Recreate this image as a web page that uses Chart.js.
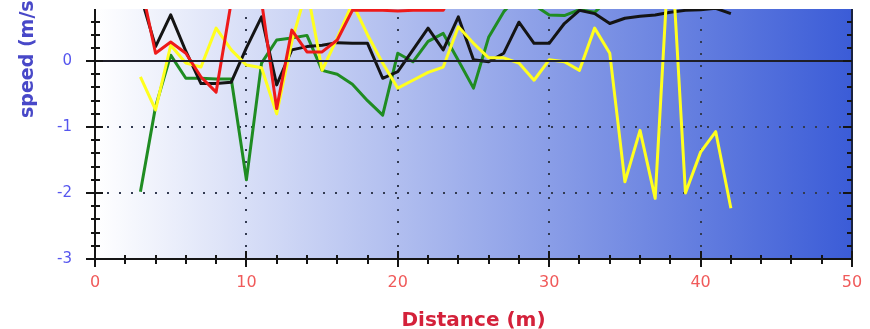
<!DOCTYPE html>
<html><head><meta charset="utf-8">
<script src="https://cdn.jsdelivr.net/npm/chart.js@4/dist/chart.umd.min.js"></script>
<style>html,body{margin:0;padding:0;background:#fff;overflow:hidden}canvas{display:block}</style>
</head><body>
<canvas id="c" width="870" height="329"></canvas>
<script>
// ---- data ----
const distance = [3,4,5,6,7,8,9,10,11,12,13,14,15,16,17,18,19,20,21,22,23,24,25,26,27,28,29,30,31,32,33,34,35,36,37,38,39,40,41,42];
const redSpeed = [1.2,0.12,0.29,0.12,-0.24,-0.47,0.9,1.2,0.91,-0.72,0.47,0.14,0.14,0.32,0.77,0.77,0.77,0.76,0.77,0.77,0.77,1.2,
  null,null,null,null,null,null,null,null,null,null,null,null,null,null,null,null,null,null];
const blackSpeed = [1.0,0.22,0.7,0.15,-0.34,-0.34,-0.32,0.2,0.67,-0.36,0.17,0.22,0.24,0.28,0.27,0.27,-0.26,-0.16,0.17,0.5,
  0.17,0.67,0.02,-0.01,0.12,0.59,0.27,0.27,0.57,0.77,0.72,0.57,0.65,0.68,0.7,0.74,0.77,0.78,0.8,0.72];
const greenSpeed = [-1.98,-0.69,0.09,-0.26,-0.26,-0.27,-0.27,-1.8,-0.03,0.32,0.35,0.39,-0.14,-0.2,-0.35,-0.6,-0.82,0.12,-0.01,0.3,
  0.42,0.01,-0.41,0.36,0.75,1.0,0.85,0.7,0.69,0.78,0.74,0.95,null,null,null,null,null,null,null,null];
const yellowSpeed = [-0.24,-0.74,0.24,-0.03,-0.09,0.5,0.17,-0.06,-0.1,-0.8,0.3,1.1,-0.14,0.35,0.88,0.4,-0.03,-0.41,-0.29,-0.17,
  -0.09,0.52,0.27,0.05,0.05,-0.03,-0.29,0.02,-0.01,-0.14,0.5,0.12,-1.83,-1.05,-2.08,2.0,-2.0,-1.38,-1.07,-2.23];
const xTickValues = [0,10,20,30,40,50];
const yTickValues = [-3,-2,-1,0];
const xTitle = 'Distance (m)';
const yTitle = 'speed (m/s)';

function points(vals){
  return distance.map((d,i)=>({x:d,y:vals[i]})).filter(p=>p.y!==null);
}

const deco = {
  id:'deco',
  beforeDatasetsDraw(chart){
    const {ctx, chartArea:a, scales:{x,y}} = chart;
    ctx.save();
    const g = ctx.createLinearGradient(a.left,0,a.right,0);
    g.addColorStop(0,'#ffffff');
    g.addColorStop(1,'#3b5cd7');
    ctx.fillStyle = g;
    ctx.fillRect(a.left,a.top,a.right-a.left,a.bottom-a.top);
    ctx.strokeStyle = '#333b52';
    ctx.lineWidth = 2;
    ctx.setLineDash([2,10]);
    for (const v of xTickValues){
      if (v===x.min || v===x.max) continue;
      const px = Math.round(x.getPixelForValue(v));
      ctx.beginPath(); ctx.moveTo(px,a.bottom); ctx.lineTo(px,a.top); ctx.stroke();
    }
    for (const v of yTickValues){
      if (v===y.min || v===0) continue;
      const py = Math.round(y.getPixelForValue(v));
      ctx.beginPath(); ctx.moveTo(a.left,py); ctx.lineTo(a.right,py); ctx.stroke();
    }
    ctx.restore();
  },
  afterDatasetsDraw(chart){
    const {ctx, chartArea:a, scales:{x,y}} = chart;
    ctx.save();
    const y0 = Math.round(y.getPixelForValue(0));
    ctx.strokeStyle = '#1e1e28'; ctx.lineWidth = 2;
    ctx.beginPath(); ctx.moveTo(a.left,y0); ctx.lineTo(a.right,y0); ctx.stroke();
    ctx.strokeStyle = '#151515'; ctx.lineWidth = 2;
    ctx.beginPath(); ctx.moveTo(a.left,a.top); ctx.lineTo(a.left,a.bottom); ctx.lineTo(a.right,a.bottom); ctx.stroke();
    ctx.strokeStyle = '#1a2340';
    ctx.beginPath(); ctx.moveTo(a.right,a.top); ctx.lineTo(a.right,a.bottom); ctx.stroke();
    ctx.strokeStyle = '#151515';
    for (let k=0; ; k++){
      const v = Math.round((y.min + 0.2*k)*10)/10;
      if (v > y.max) break;
      const py = Math.round(y.getPixelForValue(v));
      const major = Math.abs(v-Math.round(v))<1e-6;
      ctx.beginPath();
      ctx.moveTo(a.left-(major?9:4),py); ctx.lineTo(a.left+(major?8:5),py); ctx.stroke();
      ctx.beginPath();
      ctx.moveTo(a.right-(major?9:5),py); ctx.lineTo(a.right,py); ctx.stroke();
    }
    for (let v=x.min; v<=x.max; v+=2){
      const px = Math.round(x.getPixelForValue(v));
      const major = v%10===0;
      ctx.beginPath();
      ctx.moveTo(px,a.bottom-(major?8:4)); ctx.lineTo(px,a.bottom+(major?8:5)); ctx.stroke();
    }
    ctx.restore();
  },
  afterDraw(chart){
    const {ctx, chartArea:a, scales:{x,y}} = chart;
    ctx.save();
    ctx.font = '16px "DejaVu Sans"';
    ctx.fillStyle = '#f05a5a';
    ctx.textAlign = 'center'; ctx.textBaseline = 'middle';
    for (const v of xTickValues) ctx.fillText(String(v), x.getPixelForValue(v), 283);
    ctx.font = '15px "DejaVu Sans"';
    ctx.fillStyle = '#5656ee';
    ctx.textAlign = 'right';
    for (const v of yTickValues) ctx.fillText(String(v), 72, y.getPixelForValue(v));
    ctx.restore();

    ctx.save();
    ctx.fillStyle = '#4848c8';
    ctx.font = 'bold 19px "DejaVu Sans"';
    ctx.translate(33,118);
    ctx.rotate(-Math.PI/2);
    ctx.textAlign = 'left';
    ctx.textBaseline = 'alphabetic';
    ctx.fillText(yTitle,0,0);
    ctx.restore();
    ctx.save();
    ctx.fillStyle = '#d4213a';
    ctx.font = 'bold 20px "DejaVu Sans"';
    ctx.textAlign = 'center';
    ctx.textBaseline = 'alphabetic';
    ctx.fillText(xTitle,(a.left+a.right)/2,326);
    ctx.restore();
  }
};

const common = {pointRadius:0, borderWidth:3, tension:0, fill:false, clip:0, borderJoinStyle:'round', spanGaps:false};
new Chart(document.getElementById('c'), {
  type:'line',
  data:{datasets:[
    {label:'red', data:points(redSpeed), borderColor:'#ee1a1a', ...common},
    {label:'yellow', data:points(yellowSpeed), borderColor:'#ffff1e', ...common},
    {label:'black', data:points(blackSpeed), borderColor:'#141414', ...common},
    {label:'green', data:points(greenSpeed), borderColor:'#1f8c22', ...common}
  ]},
  options:{
    responsive:false, animation:false, devicePixelRatio:1,
    layout:{padding:{top:9,right:18,bottom:0,left:0}},
    plugins:{legend:{display:false}, tooltip:{enabled:false}},
    scales:{
      x:{type:'linear', min:0, max:50,
        grid:{display:false, drawTicks:false}, border:{display:false},
        ticks:{display:false, stepSize:10},
        afterFit(s){ s.height = 70; }
      },
      y:{type:'linear', min:-3, max:0.79,
        grid:{display:false, drawTicks:false}, border:{display:false},
        ticks:{display:false, stepSize:1},
        afterFit(s){ s.width = 95; }
      }
    }
  },
  plugins:[deco]
});
</script>
</body></html>
